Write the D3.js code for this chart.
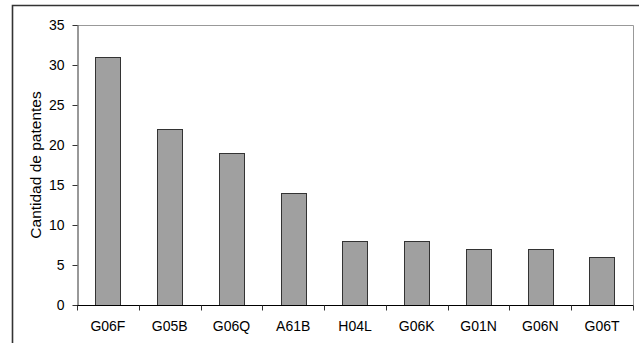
<!DOCTYPE html>
<html><head><meta charset="utf-8">
<script src="https://cdn.jsdelivr.net/npm/d3@7"></script>
<style>body{margin:0;background:#fff}svg{display:block;font-family:"Liberation Sans",Arial,sans-serif}</style>
</head><body>
<script>
const categories = ["G06F","G05B","G06Q","A61B","H04L","G06K","G01N","G06N","G06T"];
const values = [31,22,19,14,8,8,7,7,6];
const yTicks = [0,5,10,15,20,25,30,35];
const yTitle = "Cantidad de patentes";

const W=639,H=343;
const svg=d3.select("body").append("svg").attr("width",W).attr("height",H);
const L=77,R=633,T=25,B=305;
const x=d3.scaleBand().domain(categories).range([L,R]).padding(0);
const y=d3.scaleLinear().domain([0,35]).range([B,T]);

// outer frame
svg.append("path").attr("d",`M12.5,${H} V5.5 H${W}`).attr("fill","none").attr("stroke","#333").attr("stroke-width",1.6);
// plot border top/right
svg.append("path").attr("d",`M${L},${T+0.5} H${R+0.5} V${B}`).attr("fill","none").attr("stroke","#999").attr("stroke-width",1);

const bw=x.bandwidth()*0.41;
svg.selectAll("rect.bar").data(values).join("rect").attr("class","bar")
 .attr("x",(d,i)=>Math.round(x(categories[i])+x.bandwidth()/2-bw/2)+0.5)
 .attr("y",d=>Math.round(y(d))+0.5)
 .attr("width",Math.round(bw))
 .attr("height",d=>B-Math.round(y(d)))
 .attr("fill","#a0a0a0").attr("stroke","#333").attr("stroke-width",1);

// y axis
const ya=svg.append("g").attr("transform",`translate(${L+0.5},0)`)
 .call(d3.axisLeft(y).tickValues(yTicks).tickSize(5).tickPadding(8).tickSizeOuter(0));
ya.select(".domain").attr("stroke","#333");
ya.selectAll(".tick line").attr("stroke","#333");
ya.selectAll("text").attr("font-size",14).attr("fill","#000").attr("font-family","Liberation Sans, Arial, sans-serif");

// x axis
const xa=svg.append("g").attr("transform",`translate(0,${B+0.5})`);
xa.append("line").attr("x1",L).attr("x2",R+0.5).attr("stroke","#000");
const bounds=categories.map(c=>x(c)).concat([R]);
xa.selectAll("line.t").data(bounds).join("line").attr("class","t")
 .attr("x1",d=>Math.round(d)+0.5).attr("x2",d=>Math.round(d)+0.5).attr("y1",0).attr("y2",5).attr("stroke","#333");
xa.selectAll("text").data(categories).join("text")
 .attr("x",d=>x(d)+x.bandwidth()/2).attr("y",25).attr("text-anchor","middle")
 .attr("font-size",14).attr("fill","#000").text(d=>d);

svg.append("text").attr("transform",`translate(41,${(T+B)/2+0}) rotate(-90)`)
 .attr("text-anchor","middle").attr("font-size",15.5).attr("fill","#000").text(yTitle);
</script>
</body></html>
